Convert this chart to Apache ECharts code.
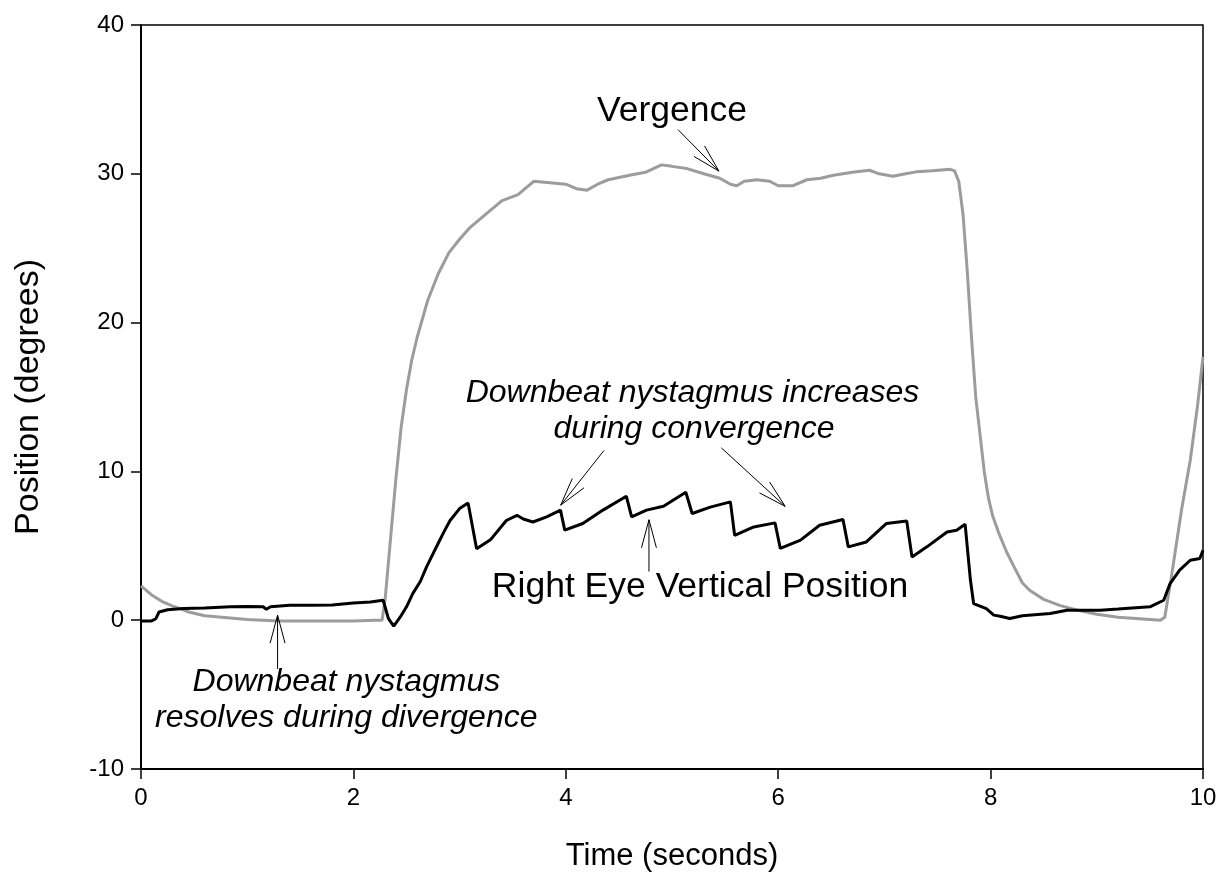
<!DOCTYPE html>
<html>
<head>
<meta charset="utf-8">
<script src="https://cdn.jsdelivr.net/npm/echarts@6/dist/echarts.min.js"></script>
<style>html,body{margin:0;padding:0;background:#fff}#c{width:1223px;height:890px}</style>
</head>
<body>
<div id="c"></div>
<script>
// ---- data (time in seconds, position in degrees) ----
var vergenceTime = [0,0.1,0.2,0.3,0.37,0.45,0.6,0.84,1.0,1.3,1.6,2.0,2.2,2.27,2.3,2.35,2.4,2.45,2.5,2.55,2.6,2.7,2.8,2.9,3.0,3.1,3.25,3.4,3.55,3.65,3.7,3.85,4.0,4.1,4.2,4.3,4.4,4.6,4.75,4.9,5.0,5.14,5.3,5.45,5.55,5.61,5.68,5.8,5.92,6.0,6.14,6.27,6.4,6.52,6.7,6.86,6.95,7.08,7.2,7.3,7.45,7.62,7.66,7.70,7.74,7.78,7.82,7.86,7.9,7.94,7.98,8.02,8.08,8.15,8.22,8.3,8.37,8.5,8.65,8.8,9.0,9.2,9.4,9.6,9.64,9.7,9.75,9.8,9.88,9.95,10];
var vergence = [2.3,1.7,1.25,0.95,0.78,0.55,0.3,0.15,0.05,-0.05,-0.05,-0.05,0.0,0.0,1.5,5.5,9.5,13,15.5,17.5,19,21.5,23.3,24.7,25.6,26.4,27.3,28.2,28.6,29.2,29.5,29.4,29.3,29.0,28.9,29.3,29.6,29.9,30.1,30.6,30.5,30.35,30.0,29.7,29.3,29.2,29.5,29.6,29.5,29.2,29.2,29.6,29.7,29.9,30.1,30.24,30.0,29.84,30.0,30.13,30.2,30.3,30.2,29.5,27.3,23.5,19,15,12.5,10,8.2,7.0,5.8,4.6,3.6,2.5,2.0,1.4,1.0,0.7,0.4,0.2,0.1,0.0,0.2,2.8,5.15,7.5,10.75,14.5,17.7];

var eyeTime = [0,0.1,0.14,0.17,0.25,0.4,0.6,0.84,1.0,1.15,1.18,1.22,1.4,1.6,1.8,2.0,2.16,2.28,2.31,2.33,2.38,2.44,2.5,2.56,2.63,2.69,2.78,2.85,2.91,3.0,3.08,3.16,3.29,3.44,3.54,3.6,3.69,3.82,3.95,3.99,4.16,4.35,4.57,4.62,4.76,4.92,5.13,5.19,5.36,5.55,5.59,5.77,5.97,6.02,6.21,6.39,6.61,6.66,6.83,7.02,7.21,7.26,7.40,7.59,7.68,7.76,7.81,7.84,7.96,8.03,8.09,8.18,8.3,8.56,8.72,9.03,9.2,9.5,9.63,9.69,9.78,9.88,9.97,10];
var rightEye = [-0.05,-0.05,0.1,0.55,0.7,0.78,0.82,0.9,0.92,0.9,0.74,0.9,1.0,1.0,1.02,1.15,1.23,1.34,0.6,0.1,-0.4,0.2,0.9,1.8,2.6,3.6,4.9,5.9,6.7,7.5,7.88,4.8,5.4,6.7,7.05,6.8,6.6,6.95,7.4,6.05,6.5,7.4,8.33,6.95,7.4,7.66,8.6,7.17,7.6,7.95,5.7,6.27,6.54,4.82,5.38,6.38,6.77,4.93,5.26,6.5,6.67,4.25,4.93,5.93,6.05,6.45,2.7,1.12,0.78,0.34,0.27,0.11,0.3,0.45,0.67,0.67,0.75,0.9,1.34,2.46,3.36,4.03,4.15,4.7];

var xTicks = [0,2,4,6,8,10];
var yTicks = [-10,0,10,20,30,40];

// annotations (data coordinates)
var arrows = [
  {from:[5.056,32.97], to:[5.442,30.18]},
  {from:[4.36,11.41], to:[3.952,7.73]},
  {from:[5.465,11.58], to:[6.066,7.65]},
  {from:[4.783,3.27], to:[4.783,6.75]},
  {from:[1.286,-3.28], to:[1.286,0.34]}
];
var labels = [
  {text:'Vergence', at:[5.0,34.2], italic:false},
  {text:'Downbeat nystagmus increases', at:[5.193,15.23], italic:true},
  {text:'during convergence', at:[5.207,12.81], italic:true},
  {text:'Right Eye Vertical Position', at:[5.264,2.2], italic:false},
  {text:'Downbeat nystagmus', at:[1.934,-4.19], italic:true},
  {text:'resolves during divergence', at:[1.933,-6.55], italic:true}
];

function pairs(xs, ys){ return xs.map(function(x,i){ return [x, ys[i]]; }); }

var FONT = '"Liberation Sans", Arial, sans-serif';
var chart = echarts.init(document.getElementById('c'), null, {renderer:'canvas'});
chart.setOption({
  animation:false,
  backgroundColor:'#fff',
  grid:{left:141, right:20, top:25, bottom:121, show:true, borderColor:'#000', borderWidth:1.5, backgroundColor:'transparent'},
  xAxis:{type:'value', min:0, max:10, interval:2,
    name:'Time (seconds)', nameLocation:'middle', nameGap:72,
    nameTextStyle:{fontFamily:FONT, fontSize:31, color:'#000'},
    axisLine:{onZero:false, lineStyle:{color:'#000', width:2}},
    axisTick:{show:true, length:10, inside:false, lineStyle:{color:'#000', width:1.5}},
    axisLabel:{fontFamily:FONT, fontSize:24, color:'#000', margin:17, formatter:function(v){return xTicks.indexOf(v)>=0?String(v):'';}},
    splitLine:{show:false}},
  yAxis:{type:'value', min:-10, max:40, interval:10,
    name:'Position (degrees)', nameLocation:'middle', nameGap:95, nameRotate:90,
    nameTextStyle:{fontFamily:FONT, fontSize:34, color:'#000'},
    axisLine:{onZero:false, lineStyle:{color:'#000', width:2}},
    axisTick:{show:true, length:10, inside:false, lineStyle:{color:'#000', width:1.5}},
    axisLabel:{fontFamily:FONT, fontSize:24, color:'#000', margin:17, formatter:function(v){return yTicks.indexOf(v)>=0?String(v):'';}},
    splitLine:{show:false}},
  series:[
    {type:'line', name:'Vergence', data:pairs(vergenceTime, vergence), showSymbol:false, smooth:false,
      lineStyle:{color:'#9c9c9c', width:3}, z:2},
    {type:'line', name:'Right Eye Vertical Position', data:pairs(eyeTime, rightEye), showSymbol:false, smooth:false,
      lineStyle:{color:'#000', width:3}, z:3}
  ]
});

function px(p){ return chart.convertToPixel({gridIndex:0}, p); }
var g = [];
arrows.forEach(function(a){
  var s = px(a.from), e = px(a.to);
  var dx = e[0]-s[0], dy = e[1]-s[1], L = Math.sqrt(dx*dx+dy*dy);
  var ux = dx/L, uy = dy/L, bl = 29, ang = 0.26;
  var c = Math.cos(ang), sn = Math.sin(ang);
  var b1 = [e[0] - bl*(ux*c - uy*sn), e[1] - bl*(uy*c + ux*sn)];
  var b2 = [e[0] - bl*(ux*c + uy*sn), e[1] - bl*(uy*c - ux*sn)];
  g.push({type:'line', shape:{x1:s[0],y1:s[1],x2:e[0],y2:e[1]}, style:{stroke:'#000', lineWidth:1}, z:10});
  g.push({type:'polyline', shape:{points:[b1,e,b2]}, style:{stroke:'#000', lineWidth:1, fill:null}, z:10});
});
labels.forEach(function(l){
  var p = px(l.at);
  g.push({type:'text', x:p[0], y:p[1], z:11, style:{text:l.text, fill:'#000',
    font:(l.italic?'italic 32px ':'35.5px ')+FONT, textAlign:'center', textVerticalAlign:'middle'}});
});
chart.setOption({graphic:g});
</script>
</body>
</html>
